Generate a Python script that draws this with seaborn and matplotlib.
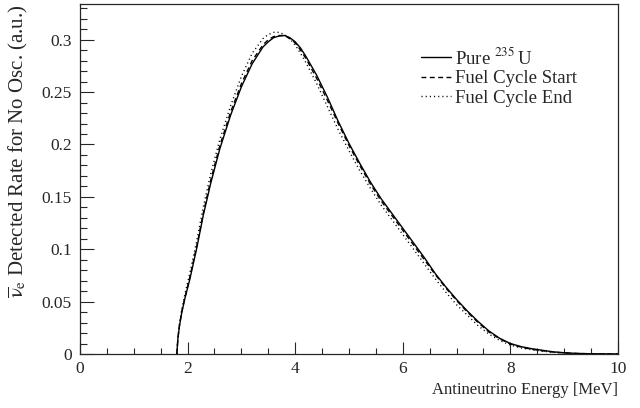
import numpy as np
import pandas as pd
import matplotlib
matplotlib.use("Agg")
import matplotlib.pyplot as plt
import seaborn as sns
from matplotlib.ticker import MultipleLocator

# antineutrino energy grid [MeV]
energy = [1.80, 1.82, 1.85, 1.89, 1.95, 2.04, 2.17, 2.29, 2.43, 2.6, 2.8, 3.0,
          3.2, 3.4, 3.5, 3.6, 3.7, 3.8, 3.9, 4.0, 4.1, 4.2, 4.4, 4.6, 4.8, 5.0,
          5.2, 5.4, 5.6, 5.8, 6.0, 6.2, 6.4, 6.6, 6.8, 7.0, 7.2, 7.4, 7.6, 7.8,
          8.0, 8.2, 8.4, 8.6, 8.8, 9.0, 9.2, 9.5, 10.0]

pure_u235 = [0, 0.015, 0.027, 0.039, 0.053, 0.071, 0.101, 0.132, 0.163, 0.196,
             0.228, 0.255, 0.277, 0.293, 0.298, 0.302, 0.3035, 0.304, 0.302,
             0.298, 0.292, 0.284, 0.266, 0.245, 0.222, 0.201, 0.182, 0.164,
             0.148, 0.134, 0.120, 0.106, 0.092, 0.077, 0.064, 0.052, 0.041,
             0.031, 0.022, 0.015, 0.010, 0.007, 0.005, 0.0035, 0.002, 0.0012,
             0.0006, 0.0002, 0]

cycle_start = [0, 0.015, 0.028, 0.040, 0.054, 0.073, 0.103, 0.134, 0.166, 0.199,
               0.231, 0.258, 0.280, 0.295, 0.300, 0.303, 0.304, 0.304, 0.301,
               0.297, 0.290, 0.282, 0.263, 0.242, 0.220, 0.199, 0.180, 0.162,
               0.146, 0.132, 0.118, 0.104, 0.090, 0.076, 0.063, 0.051, 0.040,
               0.030, 0.021, 0.0145, 0.0095, 0.0065, 0.0045, 0.003, 0.0018,
               0.001, 0.0005, 0.0002, 0]

cycle_end = [0, 0.016, 0.029, 0.042, 0.057, 0.077, 0.108, 0.140, 0.172, 0.205,
             0.237, 0.265, 0.287, 0.301, 0.305, 0.307, 0.307, 0.305, 0.301,
             0.295, 0.287, 0.278, 0.258, 0.236, 0.214, 0.194, 0.175, 0.158,
             0.142, 0.128, 0.114, 0.100, 0.086, 0.072, 0.059, 0.047, 0.037,
             0.027, 0.019, 0.013, 0.0085, 0.0058, 0.004, 0.0027, 0.0016,
             0.0009, 0.0004, 0.0001, 0]

labels = ["Pure $^{235}\\,$U", "Fuel Cycle Start", "Fuel Cycle End"]

df = pd.concat([
    pd.DataFrame({"E": energy, "rate": vals, "series": lab})
    for vals, lab in zip([pure_u235, cycle_start, cycle_end], labels)
])

sns.set_style("ticks")
plt.rcParams["font.family"] = ["Liberation Serif", "DejaVu Serif"]
plt.rcParams["mathtext.fontset"] = "stix"

fig = plt.figure(figsize=(6.4, 4.08), dpi=100)
ax = fig.add_axes([0.125, 0.1324, 0.8406, 0.8576])

sns.lineplot(data=df, x="E", y="rate", hue="series", style="series",
             palette={l: "black" for l in labels},
             dashes={labels[0]: "", labels[1]: (3.5, 2.5), labels[2]: (0.8, 2.2)},
             linewidth=1.0, ax=ax, sort=False)

ax.set_xlim(0, 10)
ax.set_ylim(0, 0.334)
ax.xaxis.set_major_locator(MultipleLocator(2))
ax.xaxis.set_minor_locator(MultipleLocator(0.5))
ax.yaxis.set_major_locator(MultipleLocator(0.05))
ax.yaxis.set_minor_locator(MultipleLocator(0.01))
ax.yaxis.set_major_formatter(plt.FuncFormatter(lambda v, p: f"{v:g}"))
ax.tick_params(axis="x", which="major", direction="in", length=8.5, width=0.8,
               labelsize=12.5, pad=5)
ax.tick_params(axis="x", which="minor", direction="in", length=4.3, width=0.8)
ax.tick_params(axis="y", which="major", direction="in", length=10, width=0.8,
               labelsize=12.5, pad=6)
ax.tick_params(axis="y", which="minor", direction="in", length=5, width=0.8)
for s in ax.spines.values():
    s.set_linewidth(0.9)
    s.set_visible(True)

ax.set_xlabel("Antineutrino Energy [MeV]", fontsize=12, loc="right")
ax.set_ylabel(r"$\overline{\mathrm{\nu}}_{\mathrm{e}}$ Detected Rate for No Osc. (a.u.)",
              fontsize=15, loc="top", labelpad=8)

leg = ax.legend(loc="upper left", bbox_to_anchor=(0.602, 0.926), frameon=False,
                fontsize=13.5, handlelength=1.6, handletextpad=0.25,
                labelspacing=0.12)
for line in leg.get_lines():
    line.set_linewidth(1.0)

fig.savefig("out.png", dpi=100)
